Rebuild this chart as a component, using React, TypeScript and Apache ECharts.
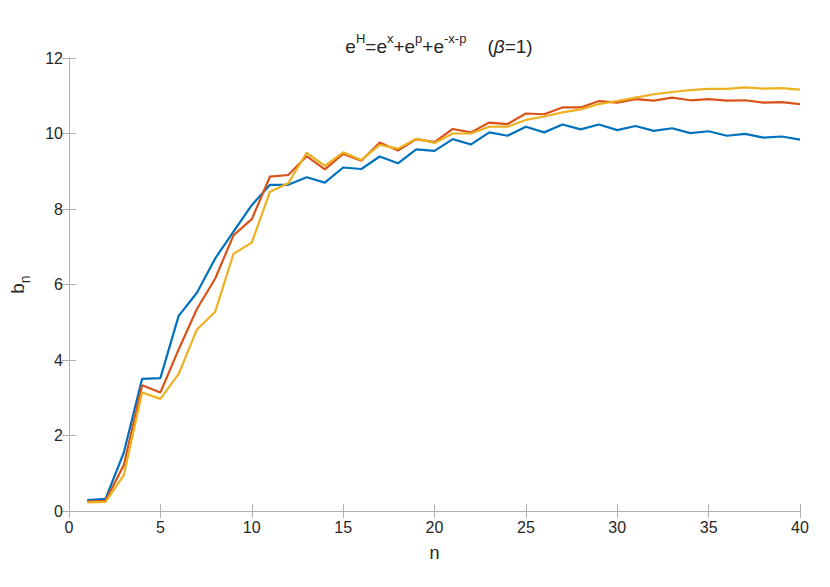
import React, { useEffect, useRef } from "react";
import * as echarts from "echarts";

const nValues = [1,2,3,4,5,6,7,8,9,10,11,12,13,14,15,16,17,18,19,20,21,22,23,24,25,26,27,28,29,30,31,32,33,34,35,36,37,38,39,40];

const blueSeries = [0.29,0.32,1.55,3.5,3.52,5.17,5.78,6.69,7.4,8.1,8.64,8.64,8.84,8.7,9.1,9.06,9.39,9.21,9.58,9.54,9.85,9.71,10.03,9.94,10.18,10.03,10.24,10.11,10.24,10.09,10.2,10.07,10.14,10.01,10.06,9.94,9.99,9.89,9.92,9.84];
const redSeries = [0.25,0.27,1.22,3.33,3.14,4.28,5.35,6.16,7.3,7.73,8.86,8.9,9.4,9.05,9.46,9.28,9.76,9.55,9.85,9.77,10.12,10.03,10.29,10.25,10.53,10.51,10.69,10.69,10.86,10.82,10.91,10.87,10.95,10.88,10.91,10.87,10.88,10.82,10.83,10.78];
const yellowSeries = [0.23,0.24,0.95,3.14,2.97,3.63,4.81,5.28,6.81,7.11,8.46,8.68,9.49,9.14,9.5,9.3,9.7,9.6,9.86,9.75,10.0,10.0,10.18,10.18,10.36,10.45,10.56,10.64,10.78,10.86,10.95,11.04,11.1,11.15,11.18,11.18,11.22,11.19,11.2,11.16];

const xTicks = [0, 5, 10, 15, 20, 25, 30, 35, 40];
const yTicks = [0, 2, 4, 6, 8, 10, 12];

const colors = ["#0072BD", "#D95319", "#EDB120"];
const textColor = "#262626";
const axisColor = "#b0b0b0";
const font = "'Liberation Sans', Arial, Helvetica, sans-serif";

export default function App() {
  const ref = useRef<HTMLDivElement>(null);
  useEffect(() => {
    if (!ref.current) return;
    const chart = echarts.init(ref.current, undefined, { renderer: "svg" });
    const mk = (vals: number[]) => nValues.map((n, i) => [n, vals[i]]);
    const lineAxis = { show: true, lineStyle: { color: axisColor, width: 1 } };
    const tick = { show: true, inside: true, length: 7, lineStyle: { color: axisColor, width: 1 } };
    const base = { color: textColor, fontFamily: font, fontWeight: "normal" as const };
    chart.setOption({
      animation: false,
      backgroundColor: "#ffffff",
      title: {
        text: "{n|e}{s|H}{n|=e}{s|x}{n|+e}{s|p}{n|+e}{s|-x-p}{n|    (}{i|β}{n|=1)}",
        left: 434,
        textAlign: "center",
        top: 27,
        textStyle: {
          ...base,
          fontSize: 19,
          rich: {
            n: { ...base, fontSize: 19, lineHeight: 24, verticalAlign: "bottom" },
            s: { ...base, fontSize: 13, lineHeight: 14, verticalAlign: "top" },
            i: { ...base, fontSize: 19, lineHeight: 24, fontStyle: "italic", verticalAlign: "bottom" },
          },
        },
      },
      grid: { left: 69, right: 30, top: 58, bottom: 76, containLabel: false },
      xAxis: [
        {
          type: "value",
          min: xTicks[0],
          max: xTicks[xTicks.length - 1],
          interval: 5,
          name: "n",
          nameLocation: "middle",
          nameGap: 33,
          nameTextStyle: { ...base, fontSize: 18 },
          axisLine: lineAxis,
          axisTick: tick,
          splitLine: { show: false },
          axisLabel: { ...base, fontSize: 16, margin: 8 },
        },
        {
          type: "value",
          position: "top",
          min: xTicks[0],
          max: xTicks[xTicks.length - 1],
          interval: 5,
          axisLine: lineAxis,
          axisTick: tick,
          splitLine: { show: false },
          axisLabel: { show: false },
        },
      ],
      yAxis: [
        {
          type: "value",
          min: yTicks[0],
          max: yTicks[yTicks.length - 1],
          interval: 2,
          name: "{b|b}{sub|n}",
          nameLocation: "middle",
          nameGap: 37,
          nameRotate: 90,
          nameTextStyle: {
            ...base,
            rich: {
              b: { ...base, fontSize: 19, lineHeight: 24, verticalAlign: "top" },
              sub: { ...base, fontSize: 14, lineHeight: 14, verticalAlign: "bottom" },
            },
          },
          axisLine: lineAxis,
          axisTick: tick,
          splitLine: { show: false },
          axisLabel: { ...base, fontSize: 16, margin: 6 },
        },
        {
          type: "value",
          position: "right",
          min: yTicks[0],
          max: yTicks[yTicks.length - 1],
          interval: 2,
          axisLine: lineAxis,
          axisTick: tick,
          splitLine: { show: false },
          axisLabel: { show: false },
        },
      ],
      series: [
        { type: "line", data: mk(blueSeries), showSymbol: false, lineStyle: { color: colors[0], width: 2.2 }, itemStyle: { color: colors[0] } },
        { type: "line", data: mk(redSeries), showSymbol: false, lineStyle: { color: colors[1], width: 2.2 }, itemStyle: { color: colors[1] } },
        { type: "line", data: mk(yellowSeries), showSymbol: false, lineStyle: { color: colors[2], width: 2.2 }, itemStyle: { color: colors[2] } },
      ],
    });
    return () => chart.dispose();
  }, []);
  return (
    <div
      ref={ref}
      style={{ position: "fixed", left: 0, top: 0, width: 830, height: 587, background: "#fff" }}
    />
  );
}
